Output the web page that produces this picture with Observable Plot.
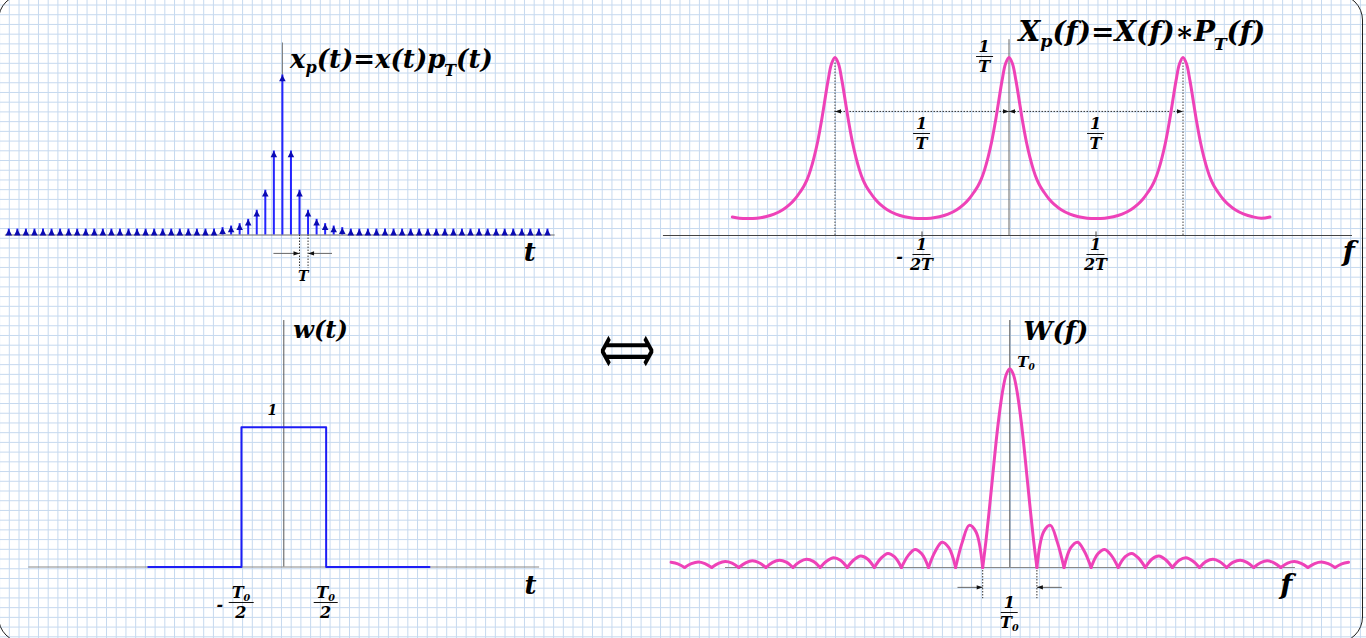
<!DOCTYPE html>
<html>
<head>
<meta charset="utf-8">
<script src="https://cdn.jsdelivr.net/npm/d3@7"></script>
<script src="https://cdn.jsdelivr.net/npm/@observablehq/plot@0.6"></script>
<style>
html,body{margin:0;padding:0;background:#fff;}
#page{position:relative;width:1366px;height:638px;overflow:hidden;background:#fff;}
#frame{position:absolute;left:-2px;top:-6px;width:1364.5px;height:649px;border:1.3px solid #222;border-radius:26px;box-sizing:border-box;pointer-events:none;}
.lbl{position:absolute;white-space:nowrap;line-height:1;color:#000;font-family:"DejaVu Serif",serif;font-style:italic;font-weight:bold;}
.frac{display:inline-flex;flex-direction:column;align-items:center;}
.frac .num{border-bottom:1.3px solid #111;padding:0 3px 1px;}
.frac .den{padding:2px 3px 0;}
.s{font-size:0.62em;position:relative;top:0.32em;}
.sT{margin-left:-0.08em;top:0.5em;}
.s0{font-size:0.6em;position:relative;top:0.28em;}
.arrow{font-family:"DejaVu Sans",sans-serif;font-style:normal;font-weight:normal;}
</style>
</head>
<body>
<div id="page"></div>
<script>
// ================= DATA =================
// Top-left: sampled signal x_p(t) = x(t) p_T(t), impulse index n = t/T
const impulseN = d3.range(-32, 32);
const impulseV = [
  0.037,0.037,0.037,0.037,0.037, 0.037,0.037,0.037,0.037,0.037,
  0.037,0.037,0.037,0.037,0.037, 0.037,0.037,0.037,0.037,0.037,
  0.037,0.037,0.037,0.037,0.037,
  0.046,0.056,0.071,0.098,0.155,0.28,0.525,1,0.525,0.28,0.155,0.098,0.071,0.056,0.046,
  0.037,0.037,0.037,0.037,0.037, 0.037,0.037,0.037,0.037,0.037,
  0.037,0.037,0.037,0.037,0.037, 0.037,0.037,0.037,0.037,0.037,
  0.037,0.037,0.037,0.037
];
const tAxisExtent = [-32.4, 31.9];     // t-axis line (units of T)
const tSpacingMarks = [2, 3];           // dotted guides for the "T" dimension
const tSpacingArrows = [{from: -1.05, to: 2}, {from: 5.8, to: 3}];

// Top-right: spectrum X_p(f) = X(f) * P_T(f), f in units of 1/T
const xpF = [-1.59,-1.55,-1.50,-1.45,-1.40,-1.35,-1.30,-1.26,-1.23,-1.20,-1.18,-1.16,-1.14,-1.12,-1.10,-1.08,-1.06,-1.04,-1.02,-1.00,
  -0.98,-0.96,-0.94,-0.92,-0.90,-0.88,-0.86,-0.84,-0.82,-0.80,-0.77,-0.74,-0.70,-0.65,-0.60,-0.55,-0.50,
  -0.45,-0.40,-0.35,-0.30,-0.26,-0.23,-0.20,-0.18,-0.16,-0.14,-0.12,-0.10,-0.08,-0.06,-0.04,-0.02,0,
  0.02,0.04,0.06,0.08,0.10,0.12,0.14,0.16,0.18,0.20,0.23,0.26,0.30,0.35,0.40,0.45,0.50,
  0.55,0.60,0.65,0.70,0.74,0.77,0.80,0.82,0.84,0.86,0.88,0.90,0.92,0.94,0.96,0.98,1.00,
  1.02,1.04,1.06,1.08,1.10,1.12,1.14,1.16,1.18,1.20,1.23,1.26,1.30,1.35,1.40,1.45,1.50,1.55,1.59];
const xpV = [0.104,0.097,0.095,0.097,0.105,0.120,0.145,0.175,0.205,0.245,0.275,0.315,0.370,0.440,0.525,0.630,0.750,0.870,0.965,1,
  0.965,0.870,0.750,0.630,0.525,0.440,0.370,0.315,0.275,0.245,0.205,0.175,0.145,0.120,0.105,0.097,0.095,
  0.097,0.105,0.120,0.145,0.175,0.205,0.245,0.275,0.315,0.370,0.440,0.525,0.630,0.750,0.870,0.965,1,
  0.965,0.870,0.750,0.630,0.525,0.440,0.370,0.315,0.275,0.245,0.205,0.175,0.145,0.120,0.105,0.097,0.095,
  0.097,0.105,0.120,0.145,0.175,0.205,0.245,0.275,0.315,0.370,0.440,0.525,0.630,0.750,0.870,0.965,1,
  0.965,0.870,0.750,0.630,0.525,0.440,0.370,0.315,0.275,0.245,0.205,0.175,0.145,0.120,0.105,0.097,0.104];
const fAxisExtentB = [-1.986, 1.974];
const fTicksB = [-0.5, 0.5];
const fTickLabelsB = [{f: -0.5, sign: "-", num: "1", den: "2T"}, {f: 0.5, sign: "", num: "1", den: "2T"}];
const periodGuides = [-1, 1];
const periodLevel = 0.697;
const periodArrows = [{f: -1, dir: -1}, {f: 0, dir: 1}, {f: 0, dir: -1}, {f: 1, dir: 1}];
const periodLabels = [-0.5, 0.5];

// Bottom-left: rectangular window w(t), t in units of T0
const wT = [-1.6, -0.5, -0.5, 0.5, 0.5, 1.72];
const wV = [0, 0, 1, 1, 0, 0];
const tAxisExtentC = [-3.01, 3.02];
const tTickLabelsC = [{t: -0.5, sign: "-"}, {t: 0.5, sign: ""}];

// Bottom-right: |W(f)|, f in units of 1/T0
const wMainF = [-1,-0.875,-0.75,-0.625,-0.5,-0.375,-0.25,-0.125,0,0.125,0.25,0.375,0.5,0.625,0.75,0.875,1];
const wMainV = [0,0.139,0.30,0.47,0.64,0.784,0.90,0.974,1,0.974,0.90,0.784,0.64,0.47,0.30,0.139,0];
const lobeOffsets = [0, 0.25, 0.5, 0.75, 1];
const sideLobes = [            // lobe k spans |f| in [k, k+1]
  [0,0.180,0.212,0.129,0],
  [0,0.100,0.127,0.082,0],
  [0,0.069,0.091,0.060,0],
  [0,0.053,0.071,0.047,0],
  [0,0.043,0.058,0.039,0],
  [0,0.036,0.049,0.033,0],
  [0,0.031,0.042,0.029,0],
  [0,0.027,0.037,0.026,0],
  [0,0.024,0.034,0.023,0],
  [0,0.022,0.030,0.021,0],
  [0,0.020,0.028,0.019,0],
  [0,0.018,0.026]
];
const fAxisExtentD = [-10.49, 10.54];
const zeroGuides = [-1, 1];
const zeroArrows = [{from: -1.93, to: -1}, {from: 1.92, to: 1}];

// ================= STYLE =================
const W = 1366, H = 638;
const pink = "#ee42b8", blue = "#2424ff", navy = "#0a0ab2";
const tipSymbol = (halfWidth) => ({
  draw(ctx, size) {
    const s = Math.sqrt(size);
    ctx.moveTo(0, 0);
    ctx.lineTo(-halfWidth * s, s);
    ctx.lineTo(halfWidth * s, s);
    ctx.closePath();
  }
});
const headImpulse = tipSymbol(0.52), headDim = tipSymbol(0.36);
const rFor = (len) => len / Math.sqrt(Math.PI);
const plotStyle = "background:transparent;position:absolute;left:0;top:0;overflow:visible;max-width:none;";

const page = document.getElementById("page");

// paper grid background
const gridStep = 9.72;
const grid = d3.create("svg").attr("width", W).attr("height", H)
  .style("position", "absolute").style("left", 0).style("top", 0);
for (let x = 9.3 - gridStep; x < W; x += gridStep)
  grid.append("line").attr("x1", x).attr("x2", x).attr("y1", 0).attr("y2", H)
    .attr("stroke", "#c6d9ef").attr("stroke-width", 1);
for (let y = 5; y < H; y += gridStep)
  grid.append("line").attr("y1", y).attr("y2", y).attr("x1", 0).attr("x2", W)
    .attr("stroke", "#c6d9ef").attr("stroke-width", 1);
page.appendChild(grid.node());

// ================= PANEL A =================
const impulses = impulseN.map((n, i) => ({n, v: impulseV[i]}));
const plotA = Plot.plot({
  width: W, height: H, style: plotStyle,
  x: {axis: null, domain: [0, 1], range: [281.9, 290.45]},
  y: {axis: null, domain: [0, 1], range: [234.5, 74.5]},
  marks: [
    Plot.ruleY([0], {x1: tAxisExtent[0], x2: tAxisExtent[1], stroke: "#666", strokeWidth: 1}),
    Plot.ruleX([0], {y1: 0, y2: 1.2, stroke: "#777", strokeWidth: 1}),
    Plot.ruleX(impulses, {x: "n", y1: 0, y2: "v", stroke: blue, strokeWidth: 2}),
    Plot.dot(impulses, {x: "n", y: "v", symbol: headImpulse, r: rFor(6.3), fill: navy}),
    Plot.ruleX(tSpacingMarks, {x: d => d, y1: 0, y2: -0.21, stroke: "#333", strokeWidth: 1, strokeDasharray: "1.5,1.5"}),
    Plot.link(tSpacingArrows, {x1: "from", x2: "to", y1: -0.115, y2: -0.115, stroke: "#666", strokeWidth: 1}),
    Plot.dot(tSpacingArrows, {x: "to", y: -0.115, symbol: headDim, r: rFor(6), fill: "#111",
      rotate: d => d.to > d.from ? 90 : -90})
  ]
});
page.appendChild(plotA);

// ================= PANEL B =================
const xpSpectrum = xpF.map((f, i) => ({f, v: xpV[i]}));
const plotB = Plot.plot({
  width: W, height: H, style: plotStyle,
  x: {axis: null, domain: [0, 1], range: [1008.5, 1182.5]},
  y: {axis: null, domain: [0, 1], range: [235, 57]},
  marks: [
    Plot.ruleY([0], {x1: fAxisExtentB[0], x2: fAxisExtentB[1], stroke: "#444", strokeWidth: 1}),
    Plot.ruleX([0], {y1: 0, y2: 1.1, stroke: "#666", strokeWidth: 1}),
    Plot.ruleX(fTicksB, {x: d => d, y1: -0.012, y2: 0.02, stroke: "#444", strokeWidth: 1}),
    Plot.ruleX(periodGuides, {x: d => d, y1: 0, y2: 0.98, stroke: "#444", strokeWidth: 1, strokeDasharray: "1.5,1.5"}),
    Plot.ruleY([periodLevel], {x1: periodGuides[0], x2: periodGuides[1], stroke: "#333", strokeWidth: 1, strokeDasharray: "1.5,1.5"}),
    Plot.line(xpSpectrum, {x: "f", y: "v", stroke: pink, strokeWidth: 3, curve: "catmull-rom"}),
    Plot.dot(periodArrows, {x: "f", y: periodLevel, symbol: headDim, r: rFor(6), fill: "#111",
      rotate: d => d.dir > 0 ? 90 : -90})
  ]
});
page.appendChild(plotB);

// ================= PANEL C =================
const windowRows = wT.map((t, i) => ({t, v: wV[i]}));
const plotC = Plot.plot({
  width: W, height: H, style: plotStyle,
  x: {axis: null, domain: [0, 0.5], range: [283.3, 325.65]},
  y: {axis: null, domain: [0, 1], range: [566.5, 426.7]},
  marks: [
    Plot.ruleY([0], {x1: tAxisExtentC[0], x2: tAxisExtentC[1], stroke: "#888", strokeWidth: 1.2}),
    Plot.ruleX([0], {y1: 0, y2: 1.763, stroke: "#555", strokeWidth: 1}),
    Plot.line(windowRows, {x: "t", y: "v", stroke: "#1c1cf5", strokeWidth: 2})
  ]
});
page.appendChild(plotC);

// ================= PANEL D =================
const wRows = wMainF.map((f, i) => ({f, v: wMainV[i], lobe: "main"}));
sideLobes.forEach((vals, k) => {
  vals.forEach((v, j) => {
    wRows.push({f: k + 1 + lobeOffsets[j], v, lobe: "r" + k});
  });
  vals.forEach((v, j) => {
    wRows.push({f: -(k + 1 + lobeOffsets[j]), v, lobe: "l" + k});
  });
});
const plotD = Plot.plot({
  width: W, height: H, style: plotStyle,
  x: {axis: null, domain: [0, 1], range: [1009.3, 1036.4]},
  y: {axis: null, domain: [0, 1], range: [567, 368.3]},
  marks: [
    Plot.ruleY([0], {x1: fAxisExtentD[0], x2: fAxisExtentD[1], stroke: "#888", strokeWidth: 1.2}),
    Plot.ruleX([0], {y1: 0, y2: 1.243, stroke: "#555", strokeWidth: 1}),
    Plot.ruleX(zeroGuides, {x: d => d, y1: 0, y2: -0.157, stroke: "#333", strokeWidth: 1, strokeDasharray: "1.5,1.5"}),
    Plot.link(zeroArrows, {x1: "from", x2: "to", y1: -0.1, y2: -0.1, stroke: "#666", strokeWidth: 1}),
    Plot.dot(zeroArrows, {x: "to", y: -0.1, symbol: headDim, r: rFor(6), fill: "#111",
      rotate: d => d.to > d.from ? 90 : -90}),
    Plot.line(wRows, {x: "f", y: "v", z: "lobe", stroke: pink, strokeWidth: 3, curve: "catmull-rom"})
  ]
});
page.appendChild(plotD);

// ================= LABELS =================
const anchors = {center: "translate(-50%,-50%)", left: "translate(0,-50%)"};
function put(x, y, html, size, anchor = "center", extra = "", scale = "") {
  const d = document.createElement("div");
  d.className = "lbl " + extra;
  d.innerHTML = html;
  d.style.left = x + "px";
  d.style.top = y + "px";
  d.style.fontSize = size + "px";
  d.style.transform = anchors[anchor] + (scale ? " " + scale : "");
  page.appendChild(d);
  return d;
}
const frac = (num, den) => `<span class="frac"><span class="num">${num}</span><span class="den">${den}</span></span>`;
const sc = (p) => ({x: v => p.scale("x").apply(v), y: v => p.scale("y").apply(v)});
const A = sc(plotA), B = sc(plotB), C = sc(plotC), D = sc(plotD);
const T0 = `T<span class="s0">0</span>`;

// panel A
put(A.x(0) + 8, A.y(1.1), `x<span class="s">p</span>(t)=x(t)p<span class="s sT">T</span>(t)`, 26, "left");
put(A.x(29), A.y(-0.11), "t", 26);
put(A.x(2.5), A.y(-0.26), "T", 14);

// panel B
put(B.x(0) + 10, B.y(1.14), `X<span class="s">p</span>(f)=X(f)∗P<span class="s sT">T</span>(f)`, 28, "left");
put(B.x(-0.14), B.y(1.0), frac("1", "T"), 16);
periodLabels.forEach(f => put(B.x(f), B.y(0.57), frac("1", "T"), 16));
fTickLabelsB.forEach(d => {
  put(B.x(d.f), B.y(-0.112), frac(d.num, d.den), 16);
  if (d.sign) put(B.x(d.f) - 22, B.y(-0.112) + 2, d.sign, 16);
});
put(B.x(1.955), B.y(-0.096), "f", 28);

// panel C
put(C.x(0) + 10, C.y(1.69), "w(t)", 24, "left");
put(C.x(-0.13), C.y(1.12), "1", 14);
put(C.x(2.92), C.y(-0.13), "t", 26);
tTickLabelsC.forEach(d => {
  put(C.x(d.t), C.y(-0.263), frac(T0, "2"), 16);
  if (d.sign) put(C.x(d.t) - 21, C.y(-0.263) + 2, d.sign, 16);
});

// panel D
put(D.x(0) + 14, D.y(1.19), "W(f)", 26, "left");
put(D.x(0) + 8, D.y(1.03), T0, 15, "left");
put(D.x(10.22), D.y(-0.09), "f", 28);
put(D.x(0), D.y(-0.231), frac("1", T0), 16);

// Fourier-pair symbol between the panels
put(626.5, 348, "⟺", 40, "center", "arrow", "scale(0.98,1.75)");

// outer rounded frame
const frame = document.createElement("div");
frame.id = "frame";
page.appendChild(frame);
</script>
</body>
</html>
